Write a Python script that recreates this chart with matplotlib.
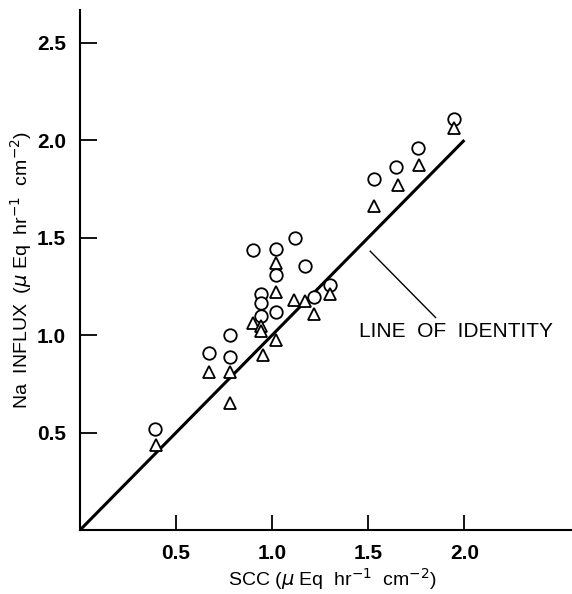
import matplotlib.pyplot as plt

# SCC vs Na influx
scc_circ = [0.39, 0.67, 0.78, 0.78, 0.90, 0.94, 0.94, 0.94, 1.02, 1.02, 1.02,
            1.12, 1.17, 1.215, 1.30, 1.53, 1.645, 1.757, 1.945]
na_circ = [0.52, 0.91, 1.00, 0.886, 1.436, 1.21, 1.166, 1.10, 1.44, 1.31, 1.116,
           1.50, 1.354, 1.196, 1.256, 1.80, 1.86, 1.957, 2.11]

scc_tri = [0.394, 0.67, 0.78, 0.78, 0.90, 0.94, 0.94, 0.95, 1.02, 1.02, 1.02,
           1.115, 1.17, 1.22, 1.30, 1.53, 1.653, 1.766, 1.945]
na_tri = [0.436, 0.81, 0.81, 0.653, 1.063, 1.046, 1.02, 0.90, 1.37, 1.22, 0.974,
          1.18, 1.174, 1.106, 1.21, 1.66, 1.77, 1.87, 2.06]

identity = [0.0, 2.0]
xticks = [0.5, 1.0, 1.5, 2.0]
yticks = [0.5, 1.0, 1.5, 2.0, 2.5]

plt.rcParams['font.family'] = ['Liberation Sans', 'DejaVu Sans']

fig = plt.figure(figsize=(5.72, 5.94), dpi=100)
ax = fig.add_axes([0.1399, 0.1077, 0.8601, 0.8754])

ax.plot(identity, identity, color='black', lw=2.2, solid_capstyle='butt')
ax.plot(scc_circ, na_circ, 'o', ms=9, mfc='white', mec='black', mew=1.3)
ax.plot(scc_tri, na_tri, '^', ms=9, mfc='white', mec='black', mew=1.3)

# leader line to the label
ax.plot([1.51, 1.85], [1.43, 1.09], color='black', lw=1.0)
ax.text(1.45, 1.02, 'LINE  OF  IDENTITY', fontsize=15, va='center', ha='left')

ax.set_xlim(0, 2.56)
ax.set_ylim(0, 2.667)
ax.set_xticks(xticks)
ax.set_xticklabels([f'{v:.1f}' for v in xticks], fontsize=15, fontweight='bold')
ax.set_yticks(yticks)
ax.set_yticklabels([f'{v:.1f}' for v in yticks], fontsize=15, fontweight='bold')
ax.tick_params(axis='y', direction='in', length=12, width=1.3, pad=10)
ax.tick_params(axis='x', direction='in', length=11, width=1.3, pad=10)

for s in ['top', 'right']:
    ax.spines[s].set_visible(False)
for s in ['left', 'bottom']:
    ax.spines[s].set_linewidth(1.5)

ax.set_xlabel(r'SCC ($\mu$ Eq  hr$^{-1}$  cm$^{-2}$)', fontsize=14, va='center')
ax.xaxis.set_label_coords(0.512, -0.094)
ax.set_ylabel(r'Na  INFLUX  ($\mu$ Eq  hr$^{-1}$  cm$^{-2}$)', fontsize=14,
              va='center')
ax.yaxis.set_label_coords(-0.12, 0.5)

fig.savefig('out.png', dpi=100)
